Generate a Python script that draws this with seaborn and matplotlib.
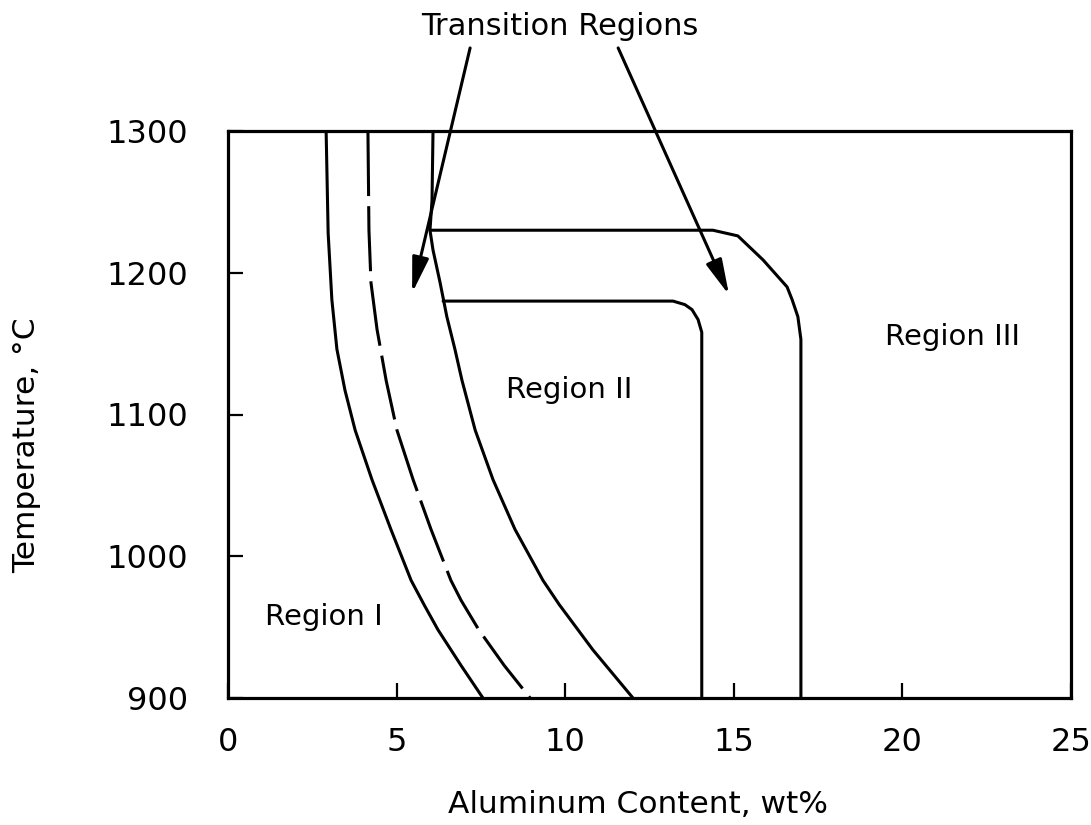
import matplotlib
matplotlib.use("Agg")
import matplotlib.pyplot as plt
import seaborn as sns
import pandas as pd

# ---- data ----
# Left solid boundary (Region I / transition)
c1_t = [1300, 1228, 1181, 1146, 1117, 1089, 1054, 1019, 983, 966, 948, 923, 900]
c1_al = [2.91, 2.97, 3.08, 3.23, 3.47, 3.77, 4.27, 4.83, 5.43, 5.81, 6.23, 6.91, 7.56]

# Dashed boundary
c2_t = [1300, 1230, 1193, 1160, 1124, 1089, 1054, 1019, 983, 969, 948, 923, 900]
c2_al = [4.15, 4.18, 4.24, 4.42, 4.69, 5.01, 5.49, 6.02, 6.61, 6.91, 7.44, 8.19, 8.96]

# Right solid boundary of transition zone (Region II edge)
c3_t = [1300, 1251, 1230, 1216, 1193, 1169, 1146, 1124, 1089, 1054, 1019, 983, 966, 934, 900]
c3_al = [6.08, 6.05, 5.99, 6.08, 6.29, 6.49, 6.73, 6.94, 7.33, 7.86, 8.51, 9.34, 9.82, 10.82, 12.01]

# Region II upper / right boundary (1180 C, ~14 wt%)
c4_al = [6.38, 13.20, 13.55, 13.76, 13.94, 14.05, 14.05]
c4_t = [1180, 1180, 1177.5, 1174, 1167, 1158, 900]

# Region III boundary (1230 C, ~17 wt%)
c5_al = [5.99, 14.38, 15.12, 15.87, 16.58, 16.73, 16.90, 16.99, 16.99]
c5_t = [1230, 1230, 1226, 1209, 1190, 1181, 1169, 1153, 900]

x_ticks = [0, 5, 10, 15, 20, 25]
y_ticks = [900, 1000, 1100, 1200, 1300]

region_labels = ["Region I", "Region II", "Region III"]
region_x = [2.83, 10.11, 21.49]
region_y = [951.5, 1111.6, 1149.0]

annot_text = "Transition Regions"
annot_xy = (9.85, 1367.7)
arrow_starts = [(7.18, 1358.6), (11.57, 1358.6)]
arrow_tips = [(5.46, 1185.7), (14.86, 1184.3)]

# ---- plotting ----
sns.set_theme(style="white")
plt.rcParams["font.family"] = ["DejaVu Sans"]

W, H = 1091, 825
fig = plt.figure(figsize=(W / 100, H / 100), dpi=100)
ax = fig.add_axes([228 / W, 1 - 698 / H, (1071 - 228) / W, (698 - 131) / H])

LW = 2.2
curves = [(c1_al, c1_t), (c2_al, c2_t), (c3_al, c3_t), (c4_al, c4_t), (c5_al, c5_t)]
for i, (xs, ys) in enumerate(curves):
    df = pd.DataFrame({"al": xs, "t": ys})
    sns.lineplot(data=df, x="al", y="t", sort=False, estimator=None,
                 color="black", lw=LW, ax=ax)
    line = ax.lines[-1]
    line.set_solid_joinstyle("round")
    line.set_dash_joinstyle("round")
    if i == 1:
        line.set_dashes([21.3, 3.3])

ax.set_xlim(0, 25)
ax.set_ylim(900, 1300)
ax.set_xticks(x_ticks)
ax.set_yticks(y_ticks)
ax.set_xticklabels([str(v) for v in x_ticks])
ax.set_yticklabels([str(v) for v in y_ticks])
for s in ax.spines.values():
    s.set_visible(True)
    s.set_color("black")
    s.set_linewidth(2.3)

ax.tick_params(axis="both", direction="in", length=10.8, width=1.6,
               colors="black", labelsize=23)
ax.tick_params(axis="x", pad=21, bottom=True, top=False)
ax.tick_params(axis="y", pad=29, left=True, right=False)

ax.set_xlabel("Aluminum Content, wt%", fontsize=22.5, color="black")
ax.set_ylabel("Temperature, \u00b0C", fontsize=22.5, color="black")
ax.xaxis.set_label_coords((637.5 - 228) / 843, (698 - 813) / 567)
ax.xaxis.label.set_verticalalignment("baseline")
ax.yaxis.set_label_coords((35 - 228) / 843, (698 - 445) / 567)
ax.yaxis.label.set_verticalalignment("baseline")

for lab, x, y in zip(region_labels, region_x, region_y):
    ax.text(x, y, lab, fontsize=21, ha="center", va="baseline", color="black")

ax.text(annot_xy[0], annot_xy[1], annot_text, fontsize=22, ha="center",
        va="baseline", color="black", clip_on=False)
for start, tip in zip(arrow_starts, arrow_tips):
    ax.annotate("", xy=tip, xytext=start, xycoords="data", textcoords="data",
                annotation_clip=False,
                arrowprops=dict(arrowstyle="-|>,head_length=0.6,head_width=0.14",
                                mutation_scale=36, lw=2.2, color="black",
                                shrinkA=0, shrinkB=0))

fig.savefig("out.png", dpi=100, facecolor="white")
